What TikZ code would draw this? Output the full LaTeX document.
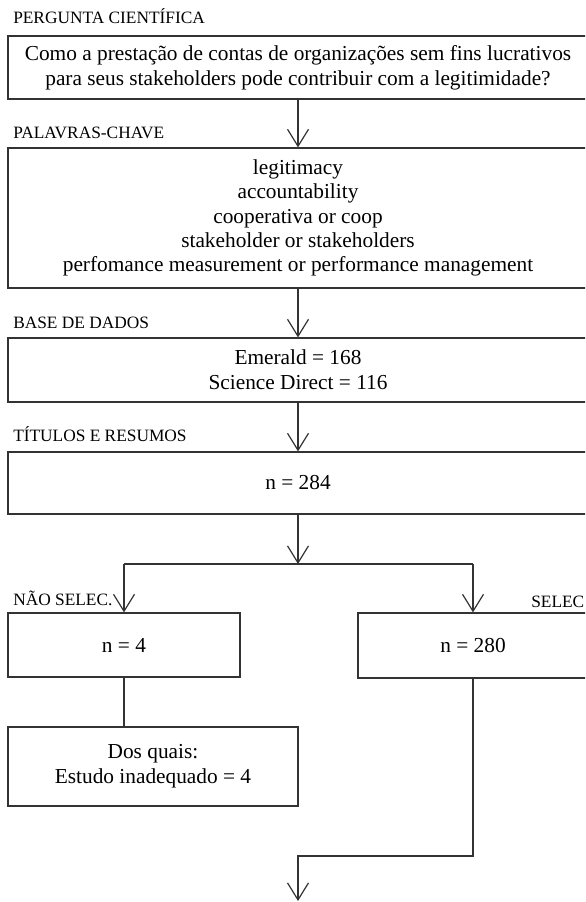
\documentclass[tikz,border=0pt]{standalone}
\usepackage{fontspec}
\setmainfont{Liberation Serif}
\usetikzlibrary{arrows.meta,positioning,calc}
\def\px{0.75pt}
\definecolor{cInk}{HTML}{333333}
\tikzset{
  flowchart/.style={x=\px, y=-\px, every node/.style={align=center}},
  box/.style={draw=cInk, line width=0.9pt, inner sep=0pt, minimum width=580*\px, font=\fontsize{16}{19}\selectfont},
  tag/.style={anchor=base west, inner sep=0pt, font=\fontsize{13}{15}\selectfont},
  flow/.style={draw=cInk, line width=0.9pt, -{Straight Barb[length=12.75pt, width=15.75pt]}},
  link/.style={draw=cInk, line width=0.9pt},
}

\begin{document}
\begin{tikzpicture}[flowchart]
% page is 585 x 902 px, y grows downwards; right edges of the wide boxes run off the page
\useasboundingbox (0,0) rectangle (585,902);
\clip (0,0) rectangle (585,902);

% ---- section tags
\node[tag] (tquest) at (13,24)  {PERGUNTA CIENTÍFICA};
\node[tag] (tkey)   at (13,139) {PALAVRAS-CHAVE};
\node[tag] (tbase)  at (13,328) {BASE DE DADOS};
\node[tag] (ttit)   at (13,441) {TÍTULOS E RESUMOS};
\node[tag] (tnsel)  at (13,605) {NÃO SELEC.};
\node[tag] (tsel)   at (531,607) {SELEC};

% ---- main column
\node[box, minimum height=63*\px] (quest) at (298,67.5) {Como a prestação de contas de organizações sem fins lucrativos\\ para seus stakeholders pode contribuir com a legitimidade?};
\node[box, minimum height=140*\px, font=\fontsize{16}{18.2}\selectfont] (key) at (298,218) {legitimacy\\ accountability\\ cooperativa or coop\\ stakeholder or stakeholders\\ perfomance measurement or performance management};
\node[box, minimum height=64*\px] (base) at (298,370) {Emerald = 168\\ Science Direct = 116};
\node[box, minimum height=62*\px] (tit) at (298,483) {n = 284};

% ---- split
\node[box, minimum width=232*\px, minimum height=64*\px] (nsel) at (124,645) {n = 4};
\node[box, minimum width=230*\px, minimum height=65*\px] (sel) at (473,645.5) {n = 280};
\node[box, minimum width=290*\px, minimum height=79*\px] (why) at (153,766.5) {Dos quais:\\ Estudo inadequado = 4};

\coordinate (split) at (298,564);
\coordinate (merge) at (298,856);
\coordinate (out) at (298,901);

% ---- connectors
\draw[flow] (quest) -- (key);
\draw[flow] (key) -- (base);
\draw[flow] (base) -- (tit);
\draw[flow] (tit.south) -- (split);
\draw[link] (nsel.north |- split) -- (sel.north |- split);
\draw[flow] (nsel.north |- split) -- (nsel.north);
\draw[flow] (sel.north |- split) -- (sel.north);
\draw[link] (nsel.south) -- (nsel.south |- why.north);
\draw[flow] (sel.south) |- (merge) -- (out);
\end{tikzpicture}
\end{document}
